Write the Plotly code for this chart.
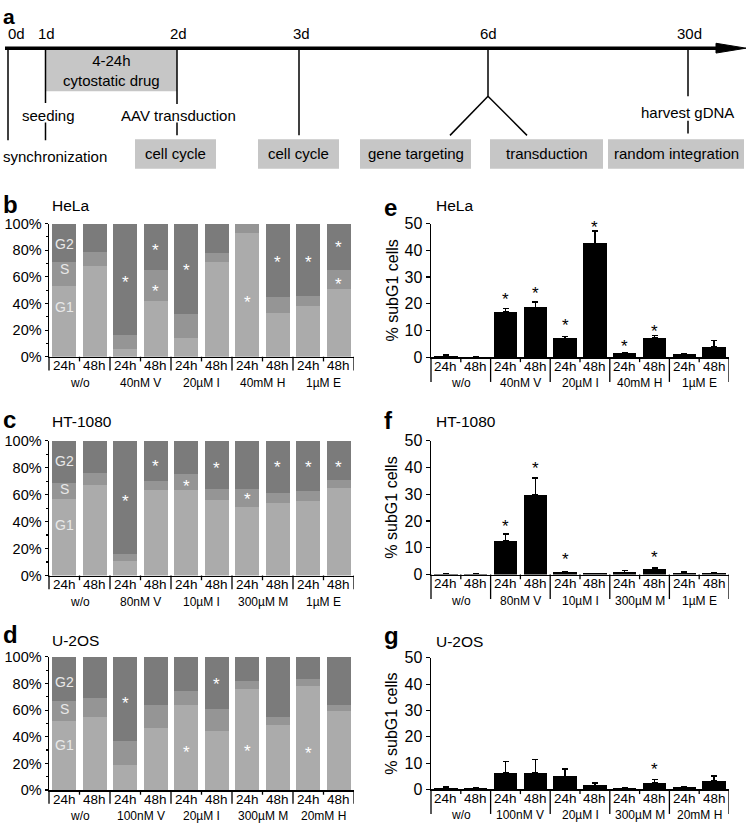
import plotly.graph_objects as go

W, H = 750, 836
FONT = "Liberation Sans, Arial, sans-serif"

# ---------------- data ----------------
time_labels = ["24h", "48h"] * 5
groups_hela = ["w/o", "40nM V", "20µM I", "40mM H", "1µM E"]
groups_ht = ["w/o", "80nM V", "10µM I", "300µM M", "1µM E"]
groups_u2 = ["w/o", "100nM V", "20µM I", "300µM M", "20mM H"]
phase_names = ["G1", "S", "G2"]
pct_ticks = [0, 20, 40, 60, 80, 100]
pct_tick_text = ["0%", "20%", "40%", "60%", "80%", "100%"]
sub_ticks = [0, 10, 20, 30, 40, 50]

# cell-cycle distribution (%)
hela_g1 = [53, 68, 6, 42, 14, 71, 93, 33, 38, 51]
hela_s = [18, 11, 10, 23, 18, 7, 7, 12, 7.5, 14]
hela_g2 = [29, 21, 84, 35, 68, 22, 0, 55, 54.5, 35]

ht_g1 = [57, 67, 10.5, 63.5, 63.5, 56, 50.5, 54, 55.5, 65]
ht_s = [11.5, 9, 5.5, 6.5, 12, 8.5, 14, 7.5, 7.5, 6]
ht_g2 = [31.5, 24, 84, 30, 24.5, 35.5, 35.5, 38.5, 37, 29]

u2_g1 = [52, 55, 18.5, 46.5, 64, 44.5, 75.5, 48.5, 78, 59]
u2_s = [14.5, 14, 18.5, 17, 10, 16, 6.5, 6.5, 5, 5]
u2_g2 = [33.5, 31, 63, 36.5, 26, 39.5, 18, 45, 17, 36]

# significance stars in cell-cycle panels (bar index, % position)
hela_star_bar = [2, 3, 3, 4, 6, 7, 8, 9, 9]
hela_star_pct = [59, 83, 52, 68, 44, 74, 74, 85, 57]
ht_star_bar = [2, 3, 4, 5, 6, 7, 8, 9]
ht_star_pct = [57.7, 84, 69, 82.4, 59.6, 83, 83, 83]
u2_star_bar = [2, 4, 5, 6, 8]
u2_star_pct = [68, 31.4, 82, 32, 30.6]

# subG1 cells (%) with one-sided SD
hela_sub = [0.4, 0.2, 17.1, 18.7, 7.1, 42.6, 1.5, 7.4, 1.2, 4.0]
hela_sub_err = [0.5, 0.2, 1.2, 2.0, 0.8, 4.6, 0.2, 0.9, 0.4, 2.3]
ht_sub = [0.3, 0.3, 12.6, 29.9, 0.9, 0.4, 0.85, 2.1, 0.7, 0.6]
ht_sub_err = [0.1, 0.1, 2.6, 6.2, 0.2, 0.1, 0.65, 0.5, 0.3, 0.2]
u2_sub = [0.75, 0.5, 6.4, 6.4, 5.0, 1.6, 0.5, 2.6, 1.0, 3.4]
u2_sub_err = [0.25, 0.25, 4.2, 5.1, 2.75, 0.9, 0.25, 1.15, 0.1, 1.7]

hela_sub_star_bar = [2, 3, 4, 5, 6, 7]
hela_sub_star_y = [23.2, 25.2, 13.4, 50, 5.5, 11.2]
ht_sub_star_bar = [2, 3, 4, 7]
ht_sub_star_y = [19.5, 41, 7.2, 7.7]
u2_sub_star_bar = [7]
u2_sub_star_y = [9.1]

# timeline (panel a)
day_labels = ["0d", "1d", "2d", "3d", "6d", "30d"]
step_labels = ["synchronization", "seeding", "AAV transduction", "harvest gDNA"]
box_labels = ["cell cycle", "cell cycle", "gene targeting", "transduction", "random integration"]
drug_label = "4-24h<br>cytostatic drug"

# ---------------- styles ----------------
C_G1, C_S, C_G2 = "#ababab", "#959595", "#7b7b7b"
BOX_GRAY = "#c6c6c6"
BAR_W = 0.79


def fx(px):
    return px / W


def fy(py):
    return 1 - py / H


fig = go.Figure()
annotations = []
shapes = []


def txt(x, y, text, size, xref, yref, xanchor="center", yanchor="middle",
        color="black", bold=False, yshift=0, angle=0):
    if bold:
        text = "<b>" + text + "</b>"
    annotations.append(dict(x=x, y=y, xref=xref, yref=yref, text=text, showarrow=False,
                            xanchor=xanchor, yanchor=yanchor, yshift=yshift, textangle=angle,
                            font=dict(family=FONT, size=size, color=color)))


def separators(xr, yr, long_len):
    for b in [1.5, 3.5, 5.5, 7.5, 9.5]:
        shapes.append(dict(type="line", xref=xr, yref=yr + " domain", x0=b, x1=b, y0=0, y1=-long_len,
                           line=dict(color="black", width=1.3)))
    shapes.append(dict(type="line", xref=xr + " domain", yref=yr + " domain", x0=0, x1=0, y0=0,
                       y1=-long_len, line=dict(color="black", width=1.3)))
    for b in [0.5, 2.5, 4.5, 6.5, 8.5]:
        shapes.append(dict(type="line", xref=xr, yref=yr + " domain", x0=b, x1=b, y0=0, y1=-0.035,
                           line=dict(color="black", width=1.3)))


def xlabels(xr, yr, groups):
    for i, t in enumerate(time_labels):
        txt(i, 0, t, 13.5, xr, yr + " domain", yshift=-9)
    for k, g in enumerate(groups):
        txt(2 * k + 0.5, 0, g, 12, xr, yr + " domain", yshift=-26)


# ---------------- panels b-d ----------------
stack_panels = [
    ("", hela_g1, hela_s, hela_g2, groups_hela, "HeLa", "b", hela_star_bar, hela_star_pct,
     220, 356, (37.5, 66, 85), 201, 202),
    ("2", ht_g1, ht_s, ht_g2, groups_ht, "HT-1080", "c", ht_star_bar, ht_star_pct,
     441.7, 579.3, (37.6, 64.5, 85), 420, 422),
    ("3", u2_g1, u2_s, u2_g2, groups_u2, "U-2OS", "d", u2_star_bar, u2_star_pct,
     662.3, 798.3, (33.6, 61, 81), 640, 646),
]
for (n, g1, s, g2, groups, title, letter, sb, sp, top, bot, lab_y, let_y, tit_y) in stack_panels:
    xr, yr = "x" + n, "y" + n
    for vals, col in zip([g1, s, g2], [C_G1, C_S, C_G2]):
        fig.add_trace(go.Bar(x=list(range(10)), y=vals, width=BAR_W, marker=dict(color=col, line=dict(width=0)),
                             xaxis=xr, yaxis=yr, hoverinfo="skip"))
    ax = dict(domain=[fx(49), fx(354)], range=[-0.5, 9.5], showline=True, linecolor="black", linewidth=1.5,
              ticks="", showticklabels=False, showgrid=False, zeroline=False, anchor=yr)
    ay = dict(domain=[fy(bot), fy(top)], range=[0, 100], showline=True, linecolor="black", linewidth=1.5,
              ticks="outside", ticklen=3, tickwidth=1.2, tickcolor="black", tickmode="array",
              tickvals=pct_ticks, ticktext=pct_tick_text,
              tickfont=dict(family=FONT, size=14.5, color="black"),
              minor=dict(tickvals=[10, 30, 50, 70, 90], ticks="outside", ticklen=2, tickcolor="black"),
              showgrid=False, zeroline=False, anchor=xr)
    fig.layout["xaxis" + n] = ax
    fig.layout["yaxis" + n] = ay
    separators(xr, yr, 14 / (bot - top))
    xlabels(xr, yr, groups)
    for b, p in zip(sb, sp):
        txt(b, p, "*", 17, xr, yr, color="white", yshift=-4)
    for name, yv in zip(phase_names, lab_y):
        txt(0, yv, name, 14, xr, yr, color="#e8e8e8")
    txt(fx(50), fy(tit_y), title, 15.5, "paper", "paper", xanchor="left")
    txt(fx(1), fy(let_y), letter, 24, "paper", "paper", xanchor="left", bold=True)

# ---------------- panels e-g ----------------
sub_panels = [
    ("4", hela_sub, hela_sub_err, groups_hela, "HeLa", "e", hela_sub_star_bar, hela_sub_star_y,
     220, 356.7, 204, 202),
    ("5", ht_sub, ht_sub_err, groups_ht, "HT-1080", "f", ht_sub_star_bar, ht_sub_star_y,
     441.7, 578.3, 421, 422),
    ("6", u2_sub, u2_sub_err, groups_u2, "U-2OS", "g", u2_sub_star_bar, u2_sub_star_y,
     663.3, 797.7, 641, 647),
]
for (n, vals, err, groups, title, letter, sb, sy, top, bot, let_y, tit_y) in sub_panels:
    xr, yr = "x" + n, "y" + n
    fig.add_trace(go.Bar(x=list(range(10)), y=vals, width=BAR_W, marker=dict(color="black", line=dict(width=0)),
                         error_y=dict(type="data", symmetric=False, array=err, arrayminus=[0] * len(err),
                                      color="black", thickness=1.3, width=3),
                         xaxis=xr, yaxis=yr, hoverinfo="skip"))
    ax = dict(domain=[fx(431), fx(729)], range=[-0.5, 9.5], showline=True, linecolor="black", linewidth=1.5,
              ticks="", showticklabels=False, showgrid=False, zeroline=False, anchor=yr)
    ay = dict(domain=[fy(bot), fy(top)], range=[0, 50], showline=True, linecolor="black", linewidth=1.5,
              ticks="outside", ticklen=4, tickwidth=1.2, tickcolor="black", tickmode="array",
              tickvals=sub_ticks, tickfont=dict(family=FONT, size=16, color="black"),
              showgrid=False, zeroline=False, anchor=xr)
    fig.layout["xaxis" + n] = ax
    fig.layout["yaxis" + n] = ay
    separators(xr, yr, 25 / (bot - top))
    xlabels(xr, yr, groups)
    for b, yv in zip(sb, sy):
        txt(b, yv, "*", 17, xr, yr, color="black", yshift=-4)
    txt(fx(392), (fy(bot) + fy(top)) / 2, "% subG1 cells", 16, "paper", "paper", angle=-90)
    txt(fx(434), fy(tit_y), title, 15.5, "paper", "paper", xanchor="left")
    txt(fx(382), fy(let_y), letter, 24, "paper", "paper", xanchor="left", bold=True)

# ---------------- panel a (timeline schematic, in pixel units) ----------------
fig.layout["xaxis7"] = dict(domain=[0, 1], range=[0, W], visible=False, anchor="y7")
fig.layout["yaxis7"] = dict(domain=[fy(170), 1], range=[170, 0], visible=False, anchor="x7")
fig.add_trace(go.Scatter(x=[100], y=[100], mode="markers", marker=dict(opacity=0), xaxis="x7", yaxis="y7",
                         hoverinfo="skip"))
XA, YA = "x7", "y7"
day_x = [8, 45.5, 177, 299, 488, 688]
day_label_x = [16, 46, 178, 301, 488, 689]
AXIS_Y = 41


def ln(x0, y0, x1, y1, w=1.5):
    shapes.append(dict(type="line", xref=XA, yref=YA, x0=x0, y0=y0, x1=x1, y1=y1,
                       line=dict(color="black", width=w)))


def box(x0, y0, x1, y1):
    shapes.append(dict(type="rect", xref=XA, yref=YA, x0=x0, y0=y0, x1=x1, y1=y1,
                       fillcolor=BOX_GRAY, line=dict(width=0), layer="below"))


box(day_x[1], AXIS_Y, day_x[2], 85)
box_spans = [(135, 216), (258, 339), (360, 471), (490, 603), (608, 744)]
for (x0, x1), lab in zip(box_spans, box_labels):
    box(x0, 134, x1, 164)
    txt((x0 + x1) / 2, 149, lab, 15, XA, YA)
txt((day_x[1] + day_x[2]) / 2, 64, drug_label, 15, XA, YA)

ln(day_x[0], AXIS_Y, day_x[0], 135)
ln(day_x[1], AXIS_Y, day_x[1], 97)
ln(day_x[1], 117, day_x[1], 135)
ln(day_x[2], AXIS_Y, day_x[2], 98)
ln(day_x[2], 117, day_x[2], 130)
ln(day_x[3], AXIS_Y, day_x[3], 130)
ln(day_x[4], AXIS_Y, day_x[4], 90)
ln(day_x[4], 90, 450, 130)
ln(day_x[4], 90, 527, 130)
ln(day_x[5], AXIS_Y, day_x[5], 90)
ln(day_x[5], 115, day_x[5], 128)

ln(5, AXIS_Y, 722, AXIS_Y, w=3.5)
shapes.append(dict(type="path", xref=XA, yref=YA, path="M 716 36 L 746 41 L 716 46 Z",
                   fillcolor="black", line=dict(color="black", width=1)))

for lab, x in zip(day_labels, day_label_x):
    txt(x, 26, lab, 15, XA, YA)
for lab, (x, y) in zip(step_labels, [(55, 152), (48, 110), (178, 110), (687, 107)]):
    txt(x, y, lab, 15, XA, YA)
txt(fx(1), fy(9), "a", 21, "paper", "paper", xanchor="left", bold=True)

fig.update_layout(width=W, height=H, autosize=False, margin=dict(l=0, r=0, t=0, b=0),
                  paper_bgcolor="white", plot_bgcolor="white", showlegend=False, barmode="stack",
                  annotations=annotations, shapes=shapes, font=dict(family=FONT))
# remove the browser's default 8px page margin so the figure sits at the window origin
fig.write_html("out.html", config={"displayModeBar": False, "staticPlot": True},
               post_script="document.body.style.margin='0px';")
